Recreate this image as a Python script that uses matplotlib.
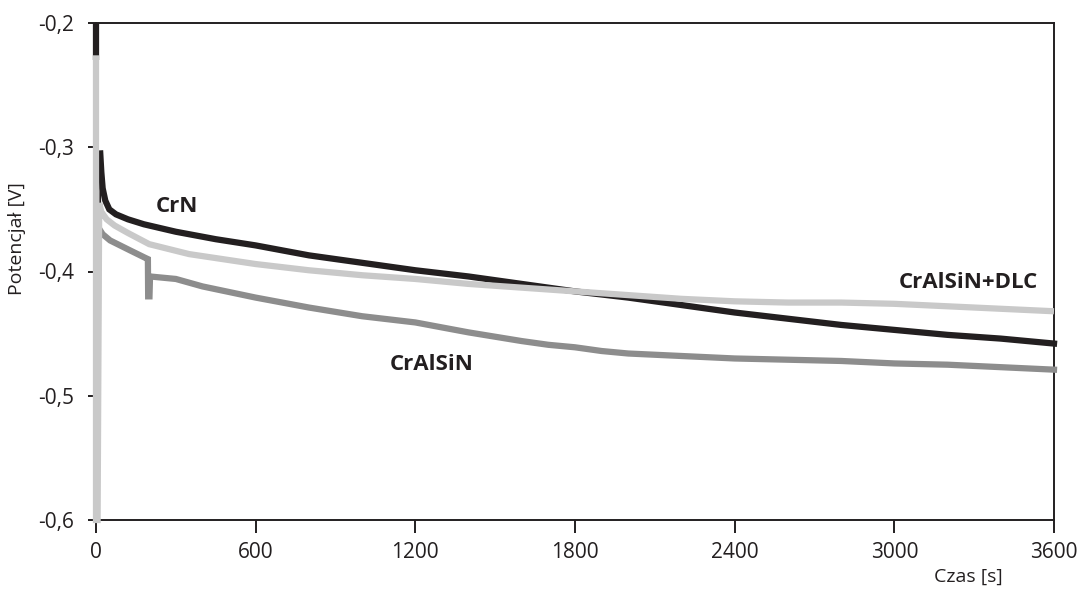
import matplotlib
matplotlib.use("Agg")
import matplotlib.pyplot as plt
from matplotlib.ticker import FixedLocator, FixedFormatter

plt.rcParams['font.family'] = ['Open Sans', 'DejaVu Sans']

# ---- data ----
crn_t = [0, 0, 15, 16, 20, 25, 35, 50, 75, 120, 180, 300, 450, 600, 800, 1000,
         1200, 1400, 1600, 1800, 2000, 2200, 2400, 2600, 2800, 3000, 3200, 3400, 3600]
crn_v = [-0.200, -0.230, -0.550, -0.305, -0.320, -0.333, -0.343, -0.350, -0.354,
         -0.358, -0.362, -0.368, -0.374, -0.379, -0.387, -0.393, -0.399, -0.404,
         -0.410, -0.416, -0.421, -0.427, -0.433, -0.438, -0.443, -0.447, -0.451,
         -0.454, -0.458]

dlc_t = [0, 0, 6, 12, 20, 40, 70, 120, 200, 350, 600, 800, 1000, 1200, 1400, 1600,
         1800, 2000, 2200, 2400, 2600, 2800, 3000, 3200, 3400, 3600]
dlc_v = [-0.226, -0.600, -0.600, -0.345, -0.352, -0.358, -0.363, -0.369, -0.378,
         -0.386, -0.394, -0.399, -0.403, -0.406, -0.410, -0.413, -0.416, -0.419,
         -0.422, -0.424, -0.425, -0.425, -0.426, -0.428, -0.430, -0.432]

alsin_t = [8, 13, 25, 53, 128, 185, 195, 196, 201, 203, 300, 400, 600, 800, 1000,
           1200, 1400, 1600, 1700, 1800, 1900, 2000, 2200, 2400, 2600, 2800, 3000,
           3200, 3400, 3600]
alsin_v = [-0.600, -0.366, -0.370, -0.375, -0.383, -0.389, -0.390, -0.420, -0.420,
           -0.404, -0.406, -0.412, -0.421, -0.429, -0.436, -0.441, -0.449, -0.456,
           -0.459, -0.461, -0.464, -0.466, -0.468, -0.470, -0.471, -0.472, -0.474,
           -0.475, -0.477, -0.479]

x_ticks = [0, 600, 1200, 1800, 2400, 3000, 3600]
x_tick_labels = ['0', '600', '1200', '1800', '2400', '3000', '3600']
y_ticks = [-0.6, -0.5, -0.4, -0.3, -0.2]
y_tick_labels = ['-0,6', '-0,5', '-0,4', '-0,3', '-0,2']

labels = ['CrN', 'CrAlSiN', 'CrAlSiN+DLC']
label_t = [304, 1261, 3277]
label_v = [-0.348, -0.475, -0.409]

# ---- style ----
c_crn = '#231f20'
c_dlc = '#c9c9c9'
c_alsin = '#8d8d8d'
axis_c = '#231f20'
lw = 4.5

fig = plt.figure(figsize=(10.78, 5.89), dpi=100)
ax = fig.add_axes([96 / 1078, 1 - 520 / 589, (1054 - 96) / 1078, (520 - 23) / 589])

# CrN: thick start, thin transient, thick rest
ax.plot(crn_t[:2], crn_v[:2], color=c_crn, lw=lw, solid_capstyle='butt', zorder=3, clip_on=False)
ax.plot(crn_t[1:4], crn_v[1:4], color=c_crn, lw=1.3, zorder=3, clip_on=False)
ax.plot(crn_t[3:], crn_v[3:], color=c_crn, lw=lw, solid_joinstyle='miter', zorder=3, clip_on=False)

# CrAlSiN: thin transient then thick
ax.plot(alsin_t[:2], alsin_v[:2], color=c_alsin, lw=1.3, zorder=3, clip_on=False)
ax.plot(alsin_t[1:], alsin_v[1:], color=c_alsin, lw=lw, solid_joinstyle='miter', zorder=3, clip_on=False)

# CrAlSiN+DLC on top
ax.plot(dlc_t, dlc_v, color=c_dlc, lw=lw, solid_capstyle='butt', solid_joinstyle='miter',
        zorder=4, clip_on=False)

for txt, t, v in zip(labels, label_t, label_v):
    ax.text(t, v, txt, fontsize=16, fontweight='bold', color=axis_c, ha='center', va='center')

ax.set_xlim(0, 3600)
ax.set_ylim(-0.6, -0.2)
ax.xaxis.set_major_locator(FixedLocator(x_ticks))
ax.xaxis.set_major_formatter(FixedFormatter(x_tick_labels))
ax.yaxis.set_major_locator(FixedLocator(y_ticks))
ax.yaxis.set_major_formatter(FixedFormatter(y_tick_labels))

for s in ax.spines.values():
    s.set_color(axis_c)
    s.set_linewidth(1.4)

ax.tick_params(axis='x', direction='out', length=9, width=1.4, color=axis_c,
               labelsize=15, labelcolor=axis_c, pad=7)
ax.tick_params(axis='y', direction='out', length=6, width=1.4, color=axis_c,
               labelsize=15, labelcolor=axis_c, pad=10)

ax.set_xlabel('Czas [s]', fontsize=14, color=axis_c, loc='right')
ax.xaxis.set_label_coords(0.946, -0.097)
ax.set_ylabel('Potencjał [V]', fontsize=14, color=axis_c)
ax.yaxis.set_label_coords(-0.073, 0.567)

fig.savefig('out.png', dpi=100)
